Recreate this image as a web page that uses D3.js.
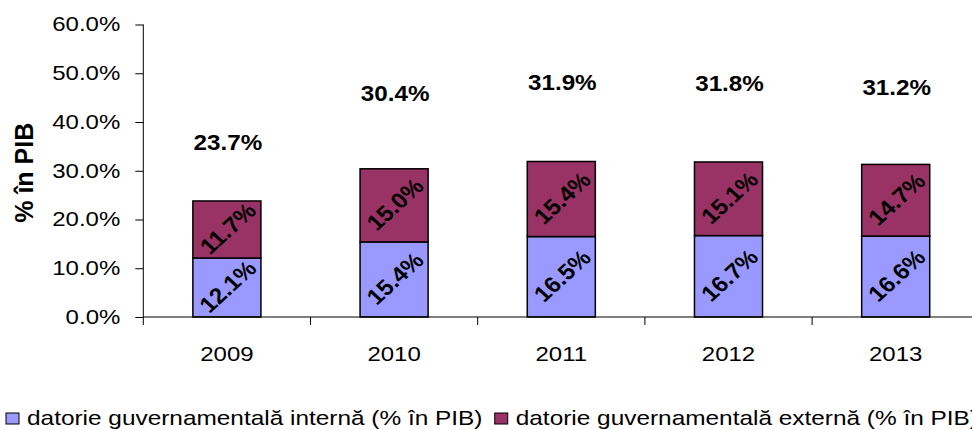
<!DOCTYPE html>
<html>
<head>
<meta charset="utf-8">
<script src="https://cdn.jsdelivr.net/npm/d3@7"></script>
<style>
  body { margin: 0; background: #fff; }
  svg { display: block; font-family: "Liberation Sans", Arial, sans-serif; }
</style>
</head>
<body>
<div id="chart"></div>
<script>
// DATA
const years = ['2009', '2010', '2011', '2012', '2013'];
const intern = [12.1, 15.4, 16.5, 16.7, 16.6];
const extern = [11.7, 15.0, 15.4, 15.1, 14.7];
const totals = [23.7, 30.4, 31.9, 31.8, 31.2];
const yTicks = [0, 10, 20, 30, 40, 50, 60];
const seriesNames = ['datorie guvernamentală internă (% în PIB)', 'datorie guvernamentală externă (% în PIB)'];
const colors = ['#9999FF', '#993366'];

const width = 972, height = 430;
const plot = {left: 143.3, right: 979.3, top: 24.5, bottom: 317};

// text in the original is a bit wider than Arial, stretch it horizontally
function stretch(sel, sx) {
    sel.each(function() {
        const t = d3.select(this);
        const x = +t.attr('x') || 0, y = +t.attr('y') || 0;
        t.attr('x', 0).attr('y', 0)
            .attr('transform', `translate(${x},${y}) scale(${sx},1)`);
    });
}

const svg = d3.select('#chart').append('svg')
    .attr('width', width)
    .attr('height', height);

// SCALES
const xScale = d3.scaleBand()
    .domain(years)
    .range([plot.left, plot.right])
    .paddingInner(0.593)
    .paddingOuter(0.2965);
const step = xScale.step();

const yScale = d3.scaleLinear()
    .domain([0, 60])
    .range([plot.bottom, plot.top]);

// totals sit on a hidden secondary axis (0-40)
const yTot = d3.scaleLinear()
    .domain([0, 40])
    .range([plot.bottom, plot.top]);

// STACK
const rows = years.map((y, i) => ({year: y, intern: intern[i], extern: extern[i]}));
const stack = d3.stack().keys(['intern', 'extern'])(rows);

const layers = svg.selectAll('g.layer')
    .data(stack)
    .join('g')
    .attr('class', 'layer')
    .attr('fill', (d, i) => colors[i]);

layers.selectAll('rect')
    .data(d => d)
    .join('rect')
    .attr('x', d => xScale(d.data.year))
    .attr('y', d => yScale(d[1]))
    .attr('width', xScale.bandwidth())
    .attr('height', d => yScale(d[0]) - yScale(d[1]))
    .attr('stroke', '#000')
    .attr('stroke-width', 1.5);

// rotated labels inside segments
layers.selectAll('text')
    .data(d => d.map(v => ({v, key: d.key})))
    .join('text')
    .attr('text-anchor', 'middle')
    .attr('dominant-baseline', 'central')
    .attr('font-size', 22)
    .attr('font-weight', 'bold')
    .attr('fill', '#000')
    .attr('transform', d => {
        const cx = xScale(d.v.data.year) + xScale.bandwidth() / 2 + 1;
        const cy = (yScale(d.v[0]) + yScale(d.v[1])) / 2 - 1;
        return `translate(${cx},${cy}) scale(1.1,1) rotate(-45)`;
    })
    .text(d => d.v.data[d.key].toFixed(1) + '%');

// totals
const totLabels = svg.append('g').selectAll('text')
    .data(totals)
    .join('text')
    .attr('x', (d, i) => xScale(years[i]) + xScale.bandwidth() / 2 + 1)
    .attr('y', d => yTot(d) - 1)
    .attr('text-anchor', 'middle')
    .attr('dominant-baseline', 'central')
    .attr('font-size', 22)
    .attr('font-weight', 'bold')
    .attr('fill', '#000')
    .text(d => d.toFixed(1) + '%');
stretch(totLabels, 1.1);

// AXES
const yAxis = d3.axisLeft(yScale)
    .tickValues(yTicks)
    .tickFormat(d => d.toFixed(1) + '%')
    .tickSize(8)
    .tickPadding(15);

const yAxisGroup = svg.append('g')
    .attr('transform', `translate(${plot.left},0)`)
    .call(yAxis);
yAxisGroup.select('.domain').attr('d', `M0,${plot.top}V${plot.bottom}`);
yAxisGroup.selectAll('text')
    .attr('font-size', 20)
    .attr('fill', '#000')
    .attr('font-family', null);
stretch(yAxisGroup.selectAll('text'), 1.2);

// x axis: baseline + ticks between categories
const xAxisGroup = svg.append('g');
xAxisGroup.append('line')
    .attr('x1', plot.left).attr('x2', width)
    .attr('y1', plot.bottom).attr('y2', plot.bottom)
    .attr('stroke', '#000');
xAxisGroup.selectAll('line.tick')
    .data(years.concat(['end']))
    .join('line')
    .attr('class', 'tick')
    .attr('x1', (d, i) => plot.left + i * step)
    .attr('x2', (d, i) => plot.left + i * step)
    .attr('y1', plot.bottom)
    .attr('y2', plot.bottom + 8)
    .attr('stroke', '#000');
const yearLabels = xAxisGroup.selectAll('text')
    .data(years)
    .join('text')
    .attr('x', d => xScale(d) + xScale.bandwidth() / 2)
    .attr('y', 361)
    .attr('text-anchor', 'middle')
    .attr('font-size', 20)
    .attr('fill', '#000')
    .text(d => d);
stretch(yearLabels, 1.2);

// y axis title
svg.append('text')
    .attr('transform', `translate(33,${(plot.top + plot.bottom) / 2 + 2}) rotate(-90)`)
    .attr('text-anchor', 'middle')
    .attr('font-size', 25)
    .attr('font-weight', 'bold')
    .attr('fill', '#000')
    .text('% în PIB');

// LEGEND
const legend = svg.append('g');
let lx = 6;
seriesNames.forEach((name, i) => {
    legend.append('rect')
        .attr('x', lx).attr('y', 413)
        .attr('width', 13).attr('height', 11)
        .attr('fill', colors[i])
        .attr('stroke', '#000')
        .attr('stroke-width', 1);
    const t = legend.append('text')
        .attr('x', lx + 21)
        .attr('y', 425)
        .attr('font-size', 20)
        .attr('fill', '#000')
        .text(name);
    const w = t.node().getComputedTextLength() * 1.22;
    stretch(t, 1.22);
    lx = lx + 21 + w + 12;
});
</script>
</body>
</html>
